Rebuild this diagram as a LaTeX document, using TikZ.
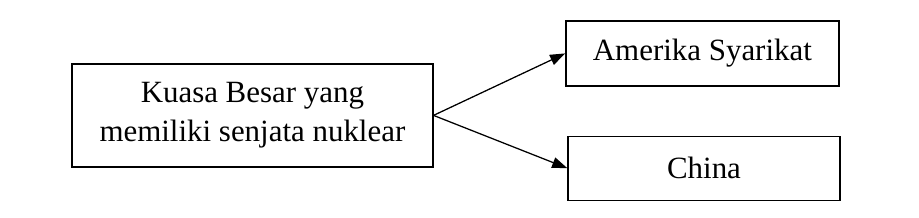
\documentclass[tikz,border=0pt]{standalone}
\usepackage{fontspec}
\setmainfont{Liberation Serif}
\usetikzlibrary{positioning,arrows.meta}

\begin{document}
\begin{tikzpicture}[
    box/.style={draw, line width=0.9pt, align=center, font=\fontsize{22}{28}\selectfont, inner sep=0pt},
    arr/.style={-{Triangle[length=0.38cm, width=0.27cm]}, line width=0.9pt},
]
\useasboundingbox (0,0) rectangle (22.975,5.425);

% Kuasa besar
\node[box, minimum width=9.025cm, minimum height=2.575cm] (kb) at (6.31,2.54) {Kuasa Besar yang\\memiliki senjata nuklear};

% Negara
\node[box, minimum width=6.825cm, minimum height=1.625cm] (as) at (17.56,4.09) {Amerika Syarikat};
\node[box, minimum width=6.8cm, minimum height=1.6cm] (cn) at (17.6,1.22) {China};

% Arrows
\draw[arr] (kb.east) -- (as.west);
\draw[arr] (kb.east) -- (cn.west);
\end{tikzpicture}
\end{document}
